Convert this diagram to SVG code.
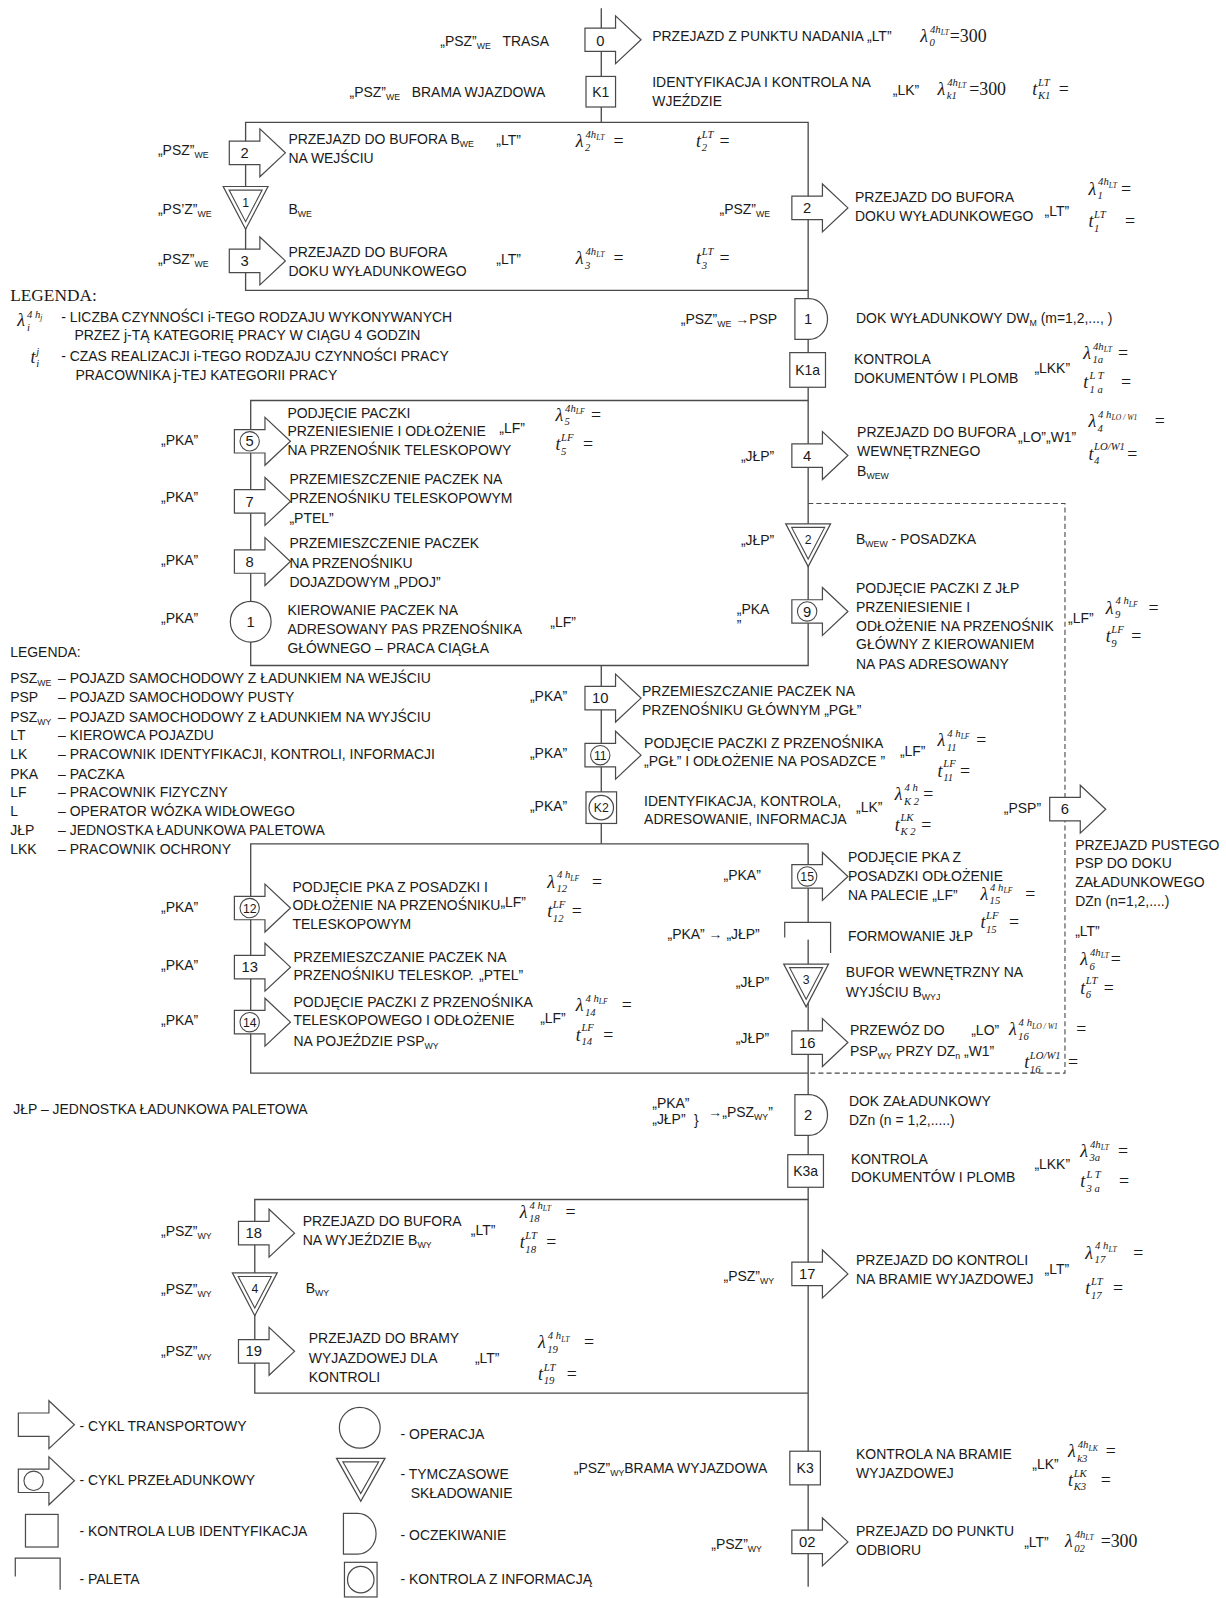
<svg xmlns="http://www.w3.org/2000/svg" width="1226" height="1598" viewBox="0 0 1226 1598">
<style>
text{font-family:"Liberation Sans",Arial,sans-serif;font-size:13.7px;fill:#1a1a1a}
.sb{font-size:8.6px}
.c{text-anchor:middle}
.n{font-size:14.5px}
.nc{font-size:12px}
.m{font-family:"Liberation Serif","Times New Roman",serif;font-style:italic;font-size:17.5px}
.mu{font-style:normal}
.ms{font-size:10.5px}
.mss{font-size:7.5px}
.serif{font-family:"Liberation Serif","Times New Roman",serif;font-size:17px}
.ln{fill:none;stroke:#4a4a4a;stroke-width:1.3}
.dash{fill:none;stroke:#4a4a4a;stroke-width:1.1;stroke-dasharray:5 3}
.sh{fill:#fff;stroke:#4a4a4a;stroke-width:1.2}
.sf{fill:none;stroke:#4a4a4a;stroke-width:1.2}
</style>
<defs>
<path id="arr" d="M-16,-11.5H14V-23.5L39,0L14,23.5V11.5H-16Z" fill="#fff" stroke="#4a4a4a" stroke-width="1.2"/>
<g id="arrc"><use href="#arr"/><circle cx="-1" cy="0" r="9.5" fill="none" stroke="#4a4a4a" stroke-width="1.1"/></g>
<g id="tri"><path d="M-22,-21H22L0,21Z" fill="#fff" stroke="#4a4a4a" stroke-width="1.2"/><path d="M-16.2,-17.5H16.2L0,13.5Z" fill="none" stroke="#4a4a4a" stroke-width="1.1"/></g>
<path id="dly" d="M-13,-20H1A18,20 0 0 1 1,20H-13Z" fill="#fff" stroke="#4a4a4a" stroke-width="1.2"/>
<circle id="op" r="20" fill="#fff" stroke="#4a4a4a" stroke-width="1.2"/>
</defs>
<rect width="1226" height="1598" fill="#fff"/>
<g transform="scale(1.01912)">

<!-- flow lines -->
<g id="connectors">
<path class="ln" d="M590,8V120"/>
<path class="ln" d="M241,120H793V285H241Z"/>
<path class="ln" d="M793,285V393"/>
<path class="ln" d="M246,393H793V653H246Z"/>
<path class="ln" d="M590,653V828"/>
<path class="ln" d="M246,828H793V1053H246Z"/>
<path class="ln" d="M793,1053V1177"/>
<path class="ln" d="M250,1177H793V1367H250Z"/>
<path class="ln" d="M793,1367V1557"/>
<path class="dash" d="M793,494H1045V1053H793"/>
</g>

<!-- process nodes -->
<g id="node-0" transform="translate(590,39)"><use href="#arr"/><text class="c n" x="-1" y="6" font-size="16">0</text></g>
<g id="node-K1" transform="translate(590,90)"><rect class="sh" x="-15" y="-15" width="29" height="30"/><text class="c" x="-0.5" y="5">K1</text></g>
<g id="node-2a" transform="translate(241,150)"><use href="#arr"/><text class="c n" x="-1" y="5">2</text></g>
<g id="node-B1" transform="translate(241,204)"><use href="#tri"/><text class="c nc" x="0" y="-1">1</text></g>
<g id="node-3" transform="translate(241,256)"><use href="#arr"/><text class="c n" x="-1" y="5">3</text></g>
<g id="node-2b" transform="translate(793,204)"><use href="#arr"/><text class="c n" x="-1" y="5">2</text></g>
<g id="node-D1" transform="translate(793,313)"><use href="#dly"/><text class="c n" x="0" y="5">1</text></g>
<g id="node-K1a" transform="translate(793,363)"><rect class="sh" x="-18" y="-17" width="35" height="34"/><text class="c" x="-0.5" y="5">K1a</text></g>
<g id="node-5" transform="translate(246,433)"><use href="#arrc"/><text class="c n" x="-1" y="5">5</text></g>
<g id="node-7" transform="translate(246,492)"><use href="#arr"/><text class="c n" x="-1" y="5">7</text></g>
<g id="node-8" transform="translate(246,551)"><use href="#arr"/><text class="c n" x="-1" y="5">8</text></g>
<g id="node-O1" transform="translate(246,610)"><use href="#op"/><text class="c n" x="0" y="5">1</text></g>
<g id="node-4" transform="translate(793,447)"><use href="#arr"/><text class="c n" x="-1" y="5">4</text></g>
<g id="node-B2" transform="translate(793,535)"><use href="#tri"/><text class="c nc" x="0" y="-1">2</text></g>
<g id="node-9" transform="translate(793,600)"><use href="#arrc"/><text class="c n" x="-1" y="5">9</text></g>
<g id="node-10" transform="translate(590,685)"><use href="#arr"/><text class="c n" x="-1" y="5">10</text></g>
<g id="node-11" transform="translate(590,741)"><use href="#arrc"/><text class="c nc" x="-1" y="4.5">11</text></g>
<g id="node-K2" transform="translate(590,792)"><rect class="sh" x="-15" y="-15" width="30" height="31"/><circle class="sf" cx="0" cy="0.5" r="12"/><text class="c nc" x="0" y="5">K2</text></g>
<g id="node-6" transform="translate(1046,794)"><use href="#arr"/><text class="c n" x="-1" y="5">6</text></g>
<g id="node-12" transform="translate(246,891)"><use href="#arrc"/><text class="c nc" x="-1" y="4.5">12</text></g>
<g id="node-13" transform="translate(246,949)"><use href="#arr"/><text class="c n" x="-1" y="5">13</text></g>
<g id="node-14" transform="translate(246,1003)"><use href="#arrc"/><text class="c nc" x="-1" y="4.5">14</text></g>
<g id="node-15" transform="translate(793,860)"><use href="#arrc"/><text class="c nc" x="-1" y="4.5">15</text></g>
<g id="node-paleta" transform="translate(793,905)"><rect x="-23" y="0" width="45" height="17" fill="#fff"/><path class="sf" d="M-23,15V0H22V30"/></g>
<g id="node-B3" transform="translate(791,967)"><use href="#tri"/><text class="c nc" x="0" y="-1">3</text></g>
<g id="node-16" transform="translate(793,1023)"><use href="#arr"/><text class="c n" x="-1" y="5">16</text></g>
<g id="node-D2" transform="translate(793,1094)"><use href="#dly"/><text class="c n" x="0" y="5">2</text></g>
<g id="node-K3a" transform="translate(790,1149)"><rect class="sh" x="-17" y="-16" width="35" height="32"/><text class="c" x="0.5" y="5">K3a</text></g>
<g id="node-18" transform="translate(250,1210)"><use href="#arr"/><text class="c n" x="-1" y="5">18</text></g>
<g id="node-B4" transform="translate(250,1270)"><use href="#tri"/><text class="c nc" x="0" y="-1">4</text></g>
<g id="node-19" transform="translate(250,1326)"><use href="#arr"/><text class="c n" x="-1" y="5">19</text></g>
<g id="node-17" transform="translate(793,1250)"><use href="#arr"/><text class="c n" x="-1" y="5">17</text></g>
<g id="node-K3" transform="translate(790,1440)"><rect class="sh" x="-15" y="-16" width="30" height="33"/><text class="c" x="0" y="5">K3</text></g>
<g id="node-02" transform="translate(793,1513)"><use href="#arr"/><text class="c n" x="-1" y="5">02</text></g>

<g id="labels">
<!-- entry -->
<text x="432" y="45">„PSZ”<tspan class="sb" dy="3">WE</tspan><tspan x="493" dy="-3">TRASA</tspan></text>
<text x="640" y="40">PRZEJAZD Z PUNKTU NADANIA „LT”</text>
<text class="m" x="903" y="41">λ<tspan class="ms" x="912.5" y="32">4</tspan><tspan class="ms">h</tspan><tspan class="mss" dy="2.5">LT</tspan><tspan class="ms" x="912" y="45.5">0</tspan><tspan class="mu" x="932" y="41">=300</tspan></text>
<text x="343" y="95">„PSZ”<tspan class="sb" dy="3">WE</tspan><tspan x="404" dy="-3">BRAMA WJAZDOWA</tspan></text>
<text x="640" y="85">IDENTYFIKACJA I KONTROLA NA</text>
<text x="640" y="104">WJEŹDZIE</text>
<text x="876" y="93">„LK”</text>
<text class="m" x="920" y="93">λ<tspan class="ms" x="929.5" y="84">4</tspan><tspan class="ms">h</tspan><tspan class="mss" dy="2.5">LT</tspan><tspan class="ms" x="929" y="97.5">k1</tspan><tspan class="mu" x="951" y="93">=300</tspan></text>
<text class="m" x="1013" y="93">t<tspan class="ms" x="1018.5" y="84">LT</tspan><tspan class="ms" x="1018.5" y="97.5">K1</tspan><tspan class="mu" x="1039" y="93">=</tspan></text>

<text x="155" y="152">„PSZ”<tspan class="sb" dy="3">WE</tspan></text>
<text x="283" y="141">PRZEJAZD DO BUFORA B<tspan class="sb" dy="3">WE</tspan></text>
<text x="283" y="160">NA WEJŚCIU</text>
<text x="487" y="142">„LT”</text>
<text class="m" x="565" y="144">λ<tspan class="ms" x="574.5" y="135">4</tspan><tspan class="ms">h</tspan><tspan class="mss" dy="2.5">LT</tspan><tspan class="ms" x="574" y="148.5">2</tspan><tspan class="mu" x="602" y="144">=</tspan></text>
<text class="m" x="683" y="144">t<tspan class="ms" x="688.5" y="135">LT</tspan><tspan class="ms" x="688.5" y="148.5">2</tspan><tspan class="mu" x="706" y="144">=</tspan></text>
<text x="155" y="210">„PS’Z”<tspan class="sb" dy="3">WE</tspan></text>
<text x="283" y="210">B<tspan class="sb" dy="3">WE</tspan></text>
<text x="155" y="259">„PSZ”<tspan class="sb" dy="3">WE</tspan></text>
<text x="283" y="252">PRZEJAZD DO BUFORA</text>
<text x="283" y="271">DOKU WYŁADUNKOWEGO</text>
<text x="487" y="259">„LT”</text>
<text class="m" x="565" y="259">λ<tspan class="ms" x="574.5" y="250">4</tspan><tspan class="ms">h</tspan><tspan class="mss" dy="2.5">LT</tspan><tspan class="ms" x="574" y="263.5">3</tspan><tspan class="mu" x="602" y="259">=</tspan></text>
<text class="m" x="683" y="259">t<tspan class="ms" x="688.5" y="250">LT</tspan><tspan class="ms" x="688.5" y="263.5">3</tspan><tspan class="mu" x="706" y="259">=</tspan></text>

<text x="706" y="210">„PSZ”<tspan class="sb" dy="3">WE</tspan></text>
<text x="839" y="198">PRZEJAZD DO BUFORA</text>
<text x="839" y="217">DOKU WYŁADUNKOWEGO</text>
<text x="1025" y="212">„LT”</text>
<text class="m" x="1068" y="191">λ<tspan class="ms" x="1077.5" y="182">4</tspan><tspan class="ms">h</tspan><tspan class="mss" dy="2.5">LT</tspan><tspan class="ms" x="1077" y="195.5">1</tspan><tspan class="mu" x="1100" y="191">=</tspan></text>
<text class="m" x="1068" y="223">t<tspan class="ms" x="1073.5" y="214">LT</tspan><tspan class="ms" x="1073.5" y="227.5">1</tspan><tspan class="mu" x="1104" y="223">=</tspan></text>

<text x="668" y="318">„PSZ”<tspan class="sb" dy="3">WE</tspan><tspan dy="-3"> →PSP</tspan></text>
<text x="840" y="317">DOK WYŁADUNKOWY DW<tspan class="sb" dy="3">M</tspan><tspan dy="-3"> (m=1,2,..., )</tspan></text>
<text x="838" y="357">KONTROLA</text>
<text x="838" y="376">DOKUMENTÓW I PLOMB</text>
<text x="1015" y="366">„LKK”</text>
<text class="m" x="1063" y="352">λ<tspan class="ms" x="1072.5" y="343">4</tspan><tspan class="ms">h</tspan><tspan class="mss" dy="2.5">LT</tspan><tspan class="ms" x="1072" y="356.5">1a</tspan><tspan class="mu" x="1097" y="352">=</tspan></text>
<text class="m" x="1063" y="381">t<tspan class="ms" x="1069" y="372">L T</tspan><tspan class="ms" x="1069" y="386">1 a</tspan><tspan class="mu" x="1100" y="381">=</tspan></text>

<!-- top legend -->
<text class="serif" x="10" y="295">LEGENDA:</text>
<text class="m" x="17" y="320">λ<tspan class="ms" x="26.5" y="312">4 h</tspan><tspan class="mss" dy="2">j</tspan><tspan class="ms" x="26.5" y="325">i</tspan></text>
<text x="60" y="316">- LICZBA CZYNNOŚCI i-TEGO RODZAJU WYKONYWANYCH</text>
<text x="73" y="334">PRZEZ j-TĄ KATEGORIĘ PRACY W CIĄGU 4 GODZIN</text>
<text class="m" x="30" y="356">t<tspan class="ms" x="35.5" y="348">j</tspan><tspan class="ms" x="35.5" y="360">i</tspan></text>
<text x="60" y="354">- CZAS REALIZACJI i-TEGO RODZAJU CZYNNOŚCI PRACY</text>
<text x="74" y="373">PRACOWNIKA j-TEJ KATEGORII PRACY</text>

<!-- unloading loop -->
<text x="158" y="437">„PKA”</text>
<text x="282" y="410">PODJĘCIE PACZKI</text>
<text x="282" y="428">PRZENIESIENIE I ODŁOŻENIE</text>
<text x="490" y="425">„LF”</text>
<text x="282" y="446">NA PRZENOŚNIK TELESKOPOWY</text>
<text class="m" x="545" y="413">λ<tspan class="ms" x="554.5" y="404">4</tspan><tspan class="ms">h</tspan><tspan class="mss" dy="2.5">LF</tspan><tspan class="ms" x="554" y="417.5">5</tspan><tspan class="mu" x="580" y="413">=</tspan></text>
<text class="m" x="545" y="442">t<tspan class="ms" x="550.5" y="433">LF</tspan><tspan class="ms" x="550.5" y="446.5">5</tspan><tspan class="mu" x="572" y="442">=</tspan></text>
<text x="158" y="493">„PKA”</text>
<text x="284" y="475">PRZEMIESZCZENIE PACZEK NA</text>
<text x="284" y="494">PRZENOŚNIKU TELESKOPOWYM</text>
<text x="284" y="513">„PTEL”</text>
<text x="158" y="554">„PKA”</text>
<text x="284" y="538">PRZEMIESZCZENIE PACZEK</text>
<text x="284" y="557">NA PRZENOŚNIKU</text>
<text x="284" y="576">DOJAZDOWYM „PDOJ”</text>
<text x="158" y="611">„PKA”</text>
<text x="282" y="603">KIEROWANIE PACZEK NA</text>
<text x="282" y="622">ADRESOWANY PAS PRZENOŚNIKA</text>
<text x="282" y="641">GŁÓWNEGO – PRACA CIĄGŁA</text>
<text x="540" y="615">„LF”</text>

<text x="727" y="452">„JŁP”</text>
<text x="841" y="429">PRZEJAZD DO BUFORA</text>
<text x="841" y="447">WEWNĘTRZNEGO</text>
<text x="841" y="467">B<tspan class="sb" dy="3">WEW</tspan></text>
<text x="999" y="434">„LO”„W1”</text>
<text class="m" x="1068" y="419">λ<tspan class="ms" x="1077.5" y="410">4 h</tspan><tspan class="mss" dy="2.5">LO / W1</tspan><tspan class="ms" x="1077" y="423.5">4</tspan><tspan class="mu" x="1133" y="419">=</tspan></text>
<text class="m" x="1068" y="451">t<tspan class="ms" x="1073.5" y="442">LO/W1</tspan><tspan class="ms" x="1073.5" y="455.5">4</tspan><tspan class="mu" x="1106" y="451">=</tspan></text>
<text x="727" y="535">„JŁP”</text>
<text x="840" y="534">B<tspan class="sb" dy="3">WEW</tspan><tspan dy="-3"> - POSADZKA</tspan></text>
<text x="723" y="602">„PKA</text>
<text x="723" y="618">”</text>
<text x="840" y="582">PODJĘCIE PACZKI Z JŁP</text>
<text x="840" y="601">PRZENIESIENIE I</text>
<text x="840" y="619">ODŁOŻENIE NA PRZENOŚNIK</text>
<text x="840" y="637">GŁÓWNY Z KIEROWANIEM</text>
<text x="840" y="656">NA PAS ADRESOWANY</text>
<text x="1048" y="611">„LF”</text>
<text class="m" x="1085" y="602">λ<tspan class="ms" x="1094.5" y="593">4 h</tspan><tspan class="mss" dy="2.5">LF</tspan><tspan class="ms" x="1094" y="606.5">9</tspan><tspan class="mu" x="1127" y="602">=</tspan></text>
<text class="m" x="1085" y="630">t<tspan class="ms" x="1090.5" y="621">LF</tspan><tspan class="ms" x="1090.5" y="634.5">9</tspan><tspan class="mu" x="1110" y="630">=</tspan></text>

<!-- main conveyor -->
<text x="520" y="688">„PKA”</text>
<text x="630" y="683">PRZEMIESZCZANIE PACZEK NA</text>
<text x="630" y="702">PRZENOŚNIKU GŁÓWNYM „PGŁ”</text>
<text x="520" y="744">„PKA”</text>
<text x="632" y="734">PODJĘCIE PACZKI Z PRZENOŚNIKA</text>
<text x="632" y="752">„PGŁ” I ODŁOŻENIE NA POSADZCE ”</text>
<text x="883" y="742">„LF”</text>
<text class="m" x="920" y="732">λ<tspan class="ms" x="929.5" y="723">4 h</tspan><tspan class="mss" dy="2.5">LF</tspan><tspan class="ms" x="929" y="736.5">11</tspan><tspan class="mu" x="958" y="732">=</tspan></text>
<text class="m" x="920" y="762">t<tspan class="ms" x="925.5" y="753">LF</tspan><tspan class="ms" x="925.5" y="766.5">11</tspan><tspan class="mu" x="942" y="762">=</tspan></text>
<text x="520" y="796">„PKA”</text>
<text x="632" y="791">IDENTYFIKACJA, KONTROLA,</text>
<text x="632" y="809">ADRESOWANIE, INFORMACJA</text>
<text x="840" y="797">„LK”</text>
<text class="m" x="878" y="785">λ<tspan class="ms" x="887.5" y="776">4 h</tspan><tspan class="ms" x="887" y="789.5">K 2</tspan><tspan class="mu" x="906" y="785">=</tspan></text>
<text class="m" x="878" y="815">t<tspan class="ms" x="883.5" y="806">LK</tspan><tspan class="ms" x="883.5" y="819.5">K 2</tspan><tspan class="mu" x="904" y="815">=</tspan></text>
<text x="985" y="798">„PSP”</text>
<text x="1055" y="834">PRZEJAZD PUSTEGO</text>
<text x="1055" y="852">PSP DO DOKU</text>
<text x="1055" y="870">ZAŁADUNKOWEGO</text>
<text x="1055" y="889">DZn (n=1,2,....)</text>
<text x="1055" y="918">„LT”</text>
<text class="m" x="1060" y="947">λ<tspan class="ms" x="1069.5" y="938">4</tspan><tspan class="ms">h</tspan><tspan class="mss" dy="2.5">LT</tspan><tspan class="ms" x="1069" y="951.5">6</tspan><tspan class="mu" x="1090" y="947">=</tspan></text>
<text class="m" x="1060" y="975">t<tspan class="ms" x="1065.5" y="966">LT</tspan><tspan class="ms" x="1065.5" y="979.5">6</tspan><tspan class="mu" x="1083" y="975">=</tspan></text>

<!-- abbreviations -->
<text x="10" y="645">LEGENDA:</text>
<text x="10" y="670">PSZ<tspan class="sb" dy="3">WE</tspan><tspan x="57" dy="-3">– POJAZD SAMOCHODOWY Z ŁADUNKIEM NA WEJŚCIU</tspan></text>
<text x="10" y="689">PSP<tspan x="57">– POJAZD SAMOCHODOWY PUSTY</tspan></text>
<text x="10" y="708">PSZ<tspan class="sb" dy="3">WY</tspan><tspan x="57" dy="-3">– POJAZD SAMOCHODOWY Z ŁADUNKIEM NA WYJŚCIU</tspan></text>
<text x="10" y="726">LT<tspan x="57">– KIEROWCA POJAZDU</tspan></text>
<text x="10" y="745">LK<tspan x="57">– PRACOWNIK IDENTYFIKACJI, KONTROLI, INFORMACJI</tspan></text>
<text x="10" y="764">PKA<tspan x="57">– PACZKA</tspan></text>
<text x="10" y="782">LF<tspan x="57">– PRACOWNIK FIZYCZNY</tspan></text>
<text x="10" y="801">L<tspan x="57">– OPERATOR WÓZKA WIDŁOWEGO</tspan></text>
<text x="10" y="819">JŁP<tspan x="57">– JEDNOSTKA ŁADUNKOWA PALETOWA</tspan></text>
<text x="10" y="838">LKK<tspan x="57">– PRACOWNIK OCHRONY</tspan></text>

<!-- loading loop -->
<text x="158" y="895">„PKA”</text>
<text x="287" y="875">PODJĘCIE PKA Z POSADZKI I</text>
<text x="287" y="893">ODŁOŻENIE NA PRZENOŚNIKU</text>
<text x="491" y="890">„LF”</text>
<text x="287" y="912">TELESKOPOWYM</text>
<text class="m" x="537" y="871">λ<tspan class="ms" x="546.5" y="862">4 h</tspan><tspan class="mss" dy="2.5">LF</tspan><tspan class="ms" x="546" y="875.5">12</tspan><tspan class="mu" x="581" y="871">=</tspan></text>
<text class="m" x="537" y="900">t<tspan class="ms" x="542.5" y="891">LF</tspan><tspan class="ms" x="542.5" y="904.5">12</tspan><tspan class="mu" x="561" y="900">=</tspan></text>
<text x="158" y="952">„PKA”</text>
<text x="288" y="944">PRZEMIESZCZANIE PACZEK NA</text>
<text x="288" y="962">PRZENOŚNIKU TELESKOP.<tspan x="470">„PTEL”</tspan></text>
<text x="158" y="1006">„PKA”</text>
<text x="288" y="988">PODJĘCIE PACZKI Z PRZENOŚNIKA</text>
<text x="288" y="1006">TELESKOPOWEGO I ODŁOŻENIE</text>
<text x="530" y="1004">„LF”</text>
<text x="288" y="1026">NA POJEŹDZIE PSP<tspan class="sb" dy="3">WY</tspan></text>
<text class="m" x="565" y="992">λ<tspan class="ms" x="574.5" y="983">4 h</tspan><tspan class="mss" dy="2.5">LF</tspan><tspan class="ms" x="574" y="996.5">14</tspan><tspan class="mu" x="610" y="992">=</tspan></text>
<text class="m" x="565" y="1021">t<tspan class="ms" x="570.5" y="1012">LF</tspan><tspan class="ms" x="570.5" y="1025.5">14</tspan><tspan class="mu" x="592" y="1021">=</tspan></text>

<text x="710" y="863">„PKA”</text>
<text x="832" y="846">PODJĘCIE PKA Z</text>
<text x="832" y="864">POSADZKI ODŁOŻENIE</text>
<text x="832" y="883">NA PALECIE „LF”</text>
<text class="m" x="962" y="883">λ<tspan class="ms" x="971.5" y="874">4 h</tspan><tspan class="mss" dy="2.5">LF</tspan><tspan class="ms" x="971" y="887.5">15</tspan><tspan class="mu" x="1006" y="883">=</tspan></text>
<text class="m" x="962" y="911">t<tspan class="ms" x="967.5" y="902">LF</tspan><tspan class="ms" x="967.5" y="915.5">15</tspan><tspan class="mu" x="990" y="911">=</tspan></text>
<text x="655" y="921">„PKA” → „JŁP”</text>
<text x="832" y="923">FORMOWANIE JŁP</text>
<text x="722" y="968">„JŁP”</text>
<text x="830" y="959">BUFOR WEWNĘTRZNY NA</text>
<text x="830" y="978">WYJŚCIU B<tspan class="sb" dy="3">WYJ</tspan></text>
<text x="722" y="1023">„JŁP”</text>
<text x="834" y="1016">PRZEWÓZ DO<tspan x="953">„LO”</tspan></text>
<text x="834" y="1036">PSP<tspan class="sb" dy="3">WY</tspan><tspan dy="-3"> PRZY DZ</tspan><tspan class="sb" dy="3">n</tspan><tspan dy="-3"> „W1”</tspan></text>
<text class="m" x="990" y="1016">λ<tspan class="ms" x="999.5" y="1007">4 h</tspan><tspan class="mss" dy="2.5">LO / W1</tspan><tspan class="ms" x="999" y="1020.5">16</tspan><tspan class="mu" x="1056" y="1016">=</tspan></text>
<text class="m" x="1005" y="1048">t<tspan class="ms" x="1010.5" y="1039">LO/W1</tspan><tspan class="ms" x="1010.5" y="1052.5">16</tspan><tspan class="mu" x="1048" y="1048">=</tspan></text>

<!-- loading dock -->
<text x="13" y="1093">JŁP – JEDNOSTKA ŁADUNKOWA PALETOWA</text>
<text x="640" y="1087">„PKA”</text>
<text x="640" y="1103">„JŁP”</text>
<text x="681" y="1104" font-size="30">}</text>
<text x="695" y="1096">→„PSZ<tspan class="sb" dy="3">WY</tspan><tspan dy="-3">”</tspan></text>
<text x="833" y="1085">DOK ZAŁADUNKOWY</text>
<text x="833" y="1104">DZn (n = 1,2,.....)</text>
<text x="835" y="1142">KONTROLA</text>
<text x="835" y="1160">DOKUMENTÓW I PLOMB</text>
<text x="1015" y="1147">„LKK”</text>
<text class="m" x="1060" y="1135">λ<tspan class="ms" x="1069.5" y="1126">4</tspan><tspan class="ms">h</tspan><tspan class="mss" dy="2.5">LT</tspan><tspan class="ms" x="1069" y="1139.5">3a</tspan><tspan class="mu" x="1097" y="1135">=</tspan></text>
<text class="m" x="1060" y="1165">t<tspan class="ms" x="1066" y="1156">L T</tspan><tspan class="ms" x="1066" y="1170">3 a</tspan><tspan class="mu" x="1098" y="1165">=</tspan></text>

<!-- exit loop -->
<text x="158" y="1213">„PSZ”<tspan class="sb" dy="3">WY</tspan></text>
<text x="297" y="1203">PRZEJAZD DO BUFORA</text>
<text x="297" y="1222">NA WYJEŹDZIE B<tspan class="sb" dy="3">WY</tspan></text>
<text x="462" y="1212">„LT”</text>
<text class="m" x="510" y="1195">λ<tspan class="ms" x="519.5" y="1186">4 h</tspan><tspan class="mss" dy="2.5">LT</tspan><tspan class="ms" x="519" y="1199.5">18</tspan><tspan class="mu" x="555" y="1195">=</tspan></text>
<text class="m" x="510" y="1225">t<tspan class="ms" x="515.5" y="1216">LT</tspan><tspan class="ms" x="515.5" y="1229.5">18</tspan><tspan class="mu" x="536" y="1225">=</tspan></text>
<text x="158" y="1270">„PSZ”<tspan class="sb" dy="3">WY</tspan></text>
<text x="300" y="1269">B<tspan class="sb" dy="3">WY</tspan></text>
<text x="158" y="1331">„PSZ”<tspan class="sb" dy="3">WY</tspan></text>
<text x="303" y="1318">PRZEJAZD DO BRAMY</text>
<text x="303" y="1337">WYJAZDOWEJ DLA</text>
<text x="303" y="1356">KONTROLI</text>
<text x="466" y="1337">„LT”</text>
<text class="m" x="528" y="1323">λ<tspan class="ms" x="537.5" y="1314">4 h</tspan><tspan class="mss" dy="2.5">LT</tspan><tspan class="ms" x="537" y="1327.5">19</tspan><tspan class="mu" x="573" y="1323">=</tspan></text>
<text class="m" x="528" y="1354">t<tspan class="ms" x="533.5" y="1345">LT</tspan><tspan class="ms" x="533.5" y="1358.5">19</tspan><tspan class="mu" x="556" y="1354">=</tspan></text>
<text x="710" y="1257">„PSZ”<tspan class="sb" dy="3">WY</tspan></text>
<text x="840" y="1241">PRZEJAZD DO KONTROLI</text>
<text x="840" y="1260">NA BRAMIE WYJAZDOWEJ</text>
<text x="1025" y="1250">„LT”</text>
<text class="m" x="1065" y="1235">λ<tspan class="ms" x="1074.5" y="1226">4 h</tspan><tspan class="mss" dy="2.5">LT</tspan><tspan class="ms" x="1074" y="1239.5">17</tspan><tspan class="mu" x="1112" y="1235">=</tspan></text>
<text class="m" x="1065" y="1270">t<tspan class="ms" x="1070.5" y="1261">LT</tspan><tspan class="ms" x="1070.5" y="1274.5">17</tspan><tspan class="mu" x="1092" y="1270">=</tspan></text>

<!-- exit gate -->
<text x="563" y="1445">„PSZ”<tspan class="sb" dy="3">WY</tspan><tspan dy="-3">BRAMA WYJAZDOWA</tspan></text>
<text x="840" y="1432">KONTROLA NA BRAMIE</text>
<text x="840" y="1450">WYJAZDOWEJ</text>
<text x="1013" y="1441">„LK”</text>
<text class="m" x="1048" y="1430">λ<tspan class="ms" x="1057.5" y="1421">4</tspan><tspan class="ms">h</tspan><tspan class="mss" dy="2.5">LK</tspan><tspan class="ms" x="1057" y="1434.5">k3</tspan><tspan class="mu" x="1085" y="1430">=</tspan></text>
<text class="m" x="1048" y="1458">t<tspan class="ms" x="1053.5" y="1449">LK</tspan><tspan class="ms" x="1053.5" y="1462.5">K3</tspan><tspan class="mu" x="1080" y="1458">=</tspan></text>
<text x="698" y="1520">„PSZ”<tspan class="sb" dy="3">WY</tspan></text>
<text x="840" y="1507">PRZEJAZD DO PUNKTU</text>
<text x="840" y="1526">ODBIORU</text>
<text x="1005" y="1518">„LT”</text>
<text class="m" x="1045" y="1518">λ<tspan class="ms" x="1054.5" y="1509">4</tspan><tspan class="ms">h</tspan><tspan class="mss" dy="2.5">LT</tspan><tspan class="ms" x="1054" y="1522.5">02</tspan><tspan class="mu" x="1080" y="1518">=300</tspan></text>
</g>

<!-- symbol key -->
<g id="key">
<use href="#arr" x="34" y="1398"/>
<text x="78" y="1404">- CYKL TRANSPORTOWY</text>
<use href="#arrc" x="34" y="1453"/>
<text x="78" y="1457">- CYKL PRZEŁADUNKOWY</text>
<rect class="sh" x="25" y="1486" width="32" height="32"/>
<text x="78" y="1507">- KONTROLA LUB IDENTYFIKACJA</text>
<path class="sf" d="M15,1547V1529H59V1560"/>
<text x="78" y="1554">- PALETA</text>
<use href="#op" x="353" y="1401"/>
<text x="393" y="1412">- OPERACJA</text>
<use href="#tri" transform="translate(354,1452) scale(1.08,1)"/>
<text x="393" y="1451">- TYMCZASOWE</text>
<text x="403" y="1470">SKŁADOWANIE</text>
<use href="#dly" x="350" y="1505"/>
<text x="393" y="1511">- OCZEKIWANIE</text>
<rect class="sh" x="338" y="1533" width="32" height="34"/>
<circle class="sf" cx="354" cy="1550" r="13"/>
<text x="393" y="1554">- KONTROLA Z INFORMACJĄ</text>
</g>
</g>
</svg>
